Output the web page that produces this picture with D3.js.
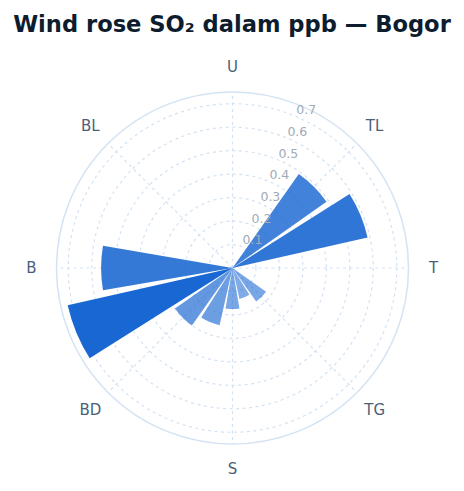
<!DOCTYPE html>
<html><head><meta charset="utf-8">
<script src="https://cdn.jsdelivr.net/npm/d3@7"></script>
<style>body{margin:0;background:#fff}</style>
</head><body>
<svg id="chart" width="464" height="491"></svg>
<script>
const directions = ["U","UTL","TL","TTL","T","TTG","TG","STG","S","SBD","BD","BBD","B","BBL","BL","UBL"];
const so2Values = [0, 0, 0.49, 0.59, 0, 0, 0.175, 0.135, 0.175, 0.25, 0.30, 0.72, 0.56, 0, 0, 0];
const compassLabels = ["U","TL","T","TG","S","BD","B","BL"];
const tickValues = [0.1,0.2,0.3,0.4,0.5,0.6,0.7];
const radialMax = 0.75;
const titleText = "Wind rose SO₂ dalam ppb — Bogor";

const W = 464, H = 491, cx = 232.5, cy = 268, R = 176;
const svg = d3.select("#chart");
const step = 2*Math.PI/directions.length;
const angle = d3.scaleBand().domain(directions)
  .range([-step/2, 2*Math.PI - step/2]).paddingInner(0.13).paddingOuter(0.065);
const r = d3.scaleLinear().domain([0, radialMax]).range([0, R]);
const vmax = d3.max(so2Values);
const opacity = d3.scaleLinear().domain([0, vmax]).range([0.45, 1]);

svg.append("text").attr("x", W/2).attr("y", 32).attr("text-anchor","middle")
  .attr("font-family","DejaVu Sans").attr("font-weight","bold").attr("font-size",22.6)
  .attr("fill","#0d1c2e").text(titleText);

const g = svg.append("g").attr("transform",`translate(${cx},${cy})`);
const gridColor = "#d3e2f3";
g.selectAll("circle.ring").data(tickValues).join("circle").attr("class","ring")
  .attr("r", d => r(d)).attr("fill","none").attr("stroke",gridColor)
  .attr("stroke-width",1.2).attr("stroke-dasharray","3 3.5");
const spokeAngles = d3.range(8).map(i => i*Math.PI/4);
g.selectAll("line.spoke").data(spokeAngles).join("line").attr("class","spoke")
  .attr("x1",0).attr("y1",0)
  .attr("x2", a => R*Math.sin(a)).attr("y2", a => -R*Math.cos(a))
  .attr("stroke",gridColor).attr("stroke-width",1.2).attr("stroke-dasharray","3 3.5");
g.append("circle").attr("r", R).attr("fill","none").attr("stroke","#d4e3f3").attr("stroke-width",1.5);

const arc = d3.arc().innerRadius(0)
  .outerRadius(d => r(d.v))
  .startAngle(d => angle(d.dir))
  .endAngle(d => angle(d.dir) + angle.bandwidth());
const data = directions.map((dir,i) => ({dir, v: so2Values[i]})).filter(d => d.v > 0);
g.selectAll("path.bar").data(data).join("path").attr("class","bar")
  .attr("d", arc).attr("fill","#1967d2").attr("fill-opacity", d => opacity(d.v));

const la = Math.PI/8;
g.selectAll("text.tick").data(tickValues).join("text").attr("class","tick")
  .attr("x", d => r(d)*Math.sin(la) + 1).attr("y", d => -r(d)*Math.cos(la) - 2)
  .attr("font-family","DejaVu Sans").attr("font-size",12.5).attr("fill","#a0abb8")
  .text(d => d3.format(".1f")(d));

const LR = 201;
g.selectAll("text.dir").data(compassLabels).join("text").attr("class","dir")
  .attr("x", (d,i) => LR*Math.sin(i*Math.PI/4)).attr("y", (d,i) => -LR*Math.cos(i*Math.PI/4))
  .attr("text-anchor","middle").attr("dominant-baseline","central")
  .attr("font-family","DejaVu Sans").attr("font-size",15).attr("fill","#4b5f79")
  .text(d => d);
</script>
</body></html>
